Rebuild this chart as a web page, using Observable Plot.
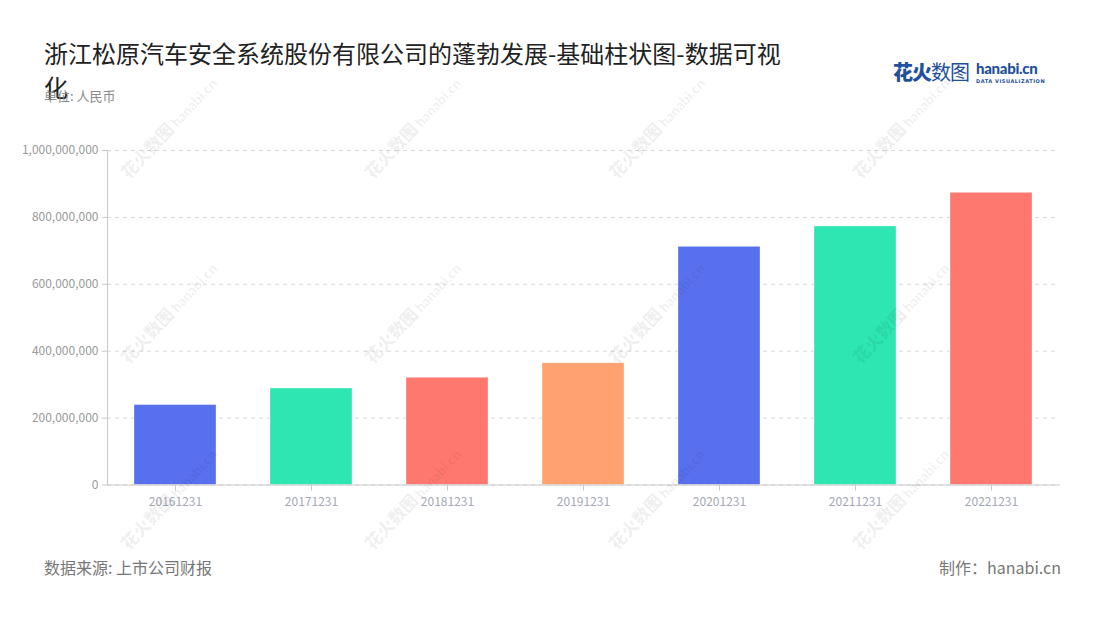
<!DOCTYPE html>
<html>
<head>
<meta charset="utf-8">
<script src="https://cdn.jsdelivr.net/npm/d3@7"></script>
<script src="https://cdn.jsdelivr.net/npm/@observablehq/plot@0.6"></script>
<style>
  html, body { margin: 0; padding: 0; background: #fff; }
  #page { position: relative; width: 1100px; height: 620px; overflow: hidden; font-family: "Noto Sans CJK SC", "Noto Sans", sans-serif; }
  #title { position: absolute; left: 44px; top: 36px; width: 745px; font-size: 24px; line-height: 34px; color: #222; }
  #unit { position: absolute; left: 44px; top: 86px; font-size: 13px; color: #8a8a8a; }
  #chart { position: absolute; left: 0; top: 130px; }
  #source { position: absolute; left: 44px; top: 555px; font-size: 16px; color: #777; }
  #maker { position: absolute; right: 39px; top: 555px; font-size: 16px; color: #777; }
  #logo { position: absolute; left: 893px; top: 57px; color: #22509c; white-space: nowrap; }
  #logo .cn1 { font-size: 20px; font-weight: 900; letter-spacing: -1px; }
  #logo .cn2 { font-size: 20px; font-weight: 400; letter-spacing: -1px; }
  #logo .en { position: absolute; left: 83px; top: 2px; font-family: "Lato", sans-serif; font-weight: 900; font-size: 15px; letter-spacing: -0.3px; }
  #logo .sub { position: absolute; left: 83px; top: 21px; font-family: "DejaVu Sans", sans-serif; font-size: 5px; letter-spacing: 0.55px; font-weight: bold; }
  .wm { position: absolute; transform: rotate(-47deg); transform-origin: left bottom; color: rgba(0,0,0,0.065); font-size: 17px; line-height: 20px; height: 20px; font-weight: 900; white-space: nowrap; pointer-events: none; }
  .wm .e { font-family: "Lato", sans-serif; font-size: 14px; margin-left: 3px; }
</style>
</head>
<body>
<div id="page">
  <div id="title"></div>
  <div id="unit"></div>
  <div id="logo"><span class="cn1">花火</span><span class="cn2">数图</span><span class="en">hanabi.cn</span><span class="sub">DATA VISUALIZATION</span></div>
  <div id="chart"></div>
  <div id="source"></div>
  <div id="maker"></div>
</div>
<script>
const titleText = "浙江松原汽车安全系统股份有限公司的蓬勃发展-基础柱状图-数据可视化";
const unitText = "单位: 人民币";
const sourceText = "数据来源: 上市公司财报";
const makerText = "制作：hanabi.cn";

const dates = ["20161231", "20171231", "20181231", "20191231", "20201231", "20211231", "20221231"];
const values = [239000000, 288500000, 320500000, 364000000, 712000000, 773000000, 873500000];
const yTicks = [0, 200000000, 400000000, 600000000, 800000000, 1000000000];
const palette = ["#5970ee", "#2ee6b1", "#ff7870", "#ffa26f", "#5970ee", "#2ee6b1", "#ff7870"];

document.getElementById("title").textContent = titleText;
document.getElementById("unit").textContent = unitText;
document.getElementById("source").textContent = sourceText;
document.getElementById("maker").textContent = makerText;

const data = dates.map((d, i) => ({date: d, value: values[i], color: palette[i]}));

const chart = Plot.plot({
  width: 1100,
  height: 390,
  marginTop: 20,
  marginBottom: 35.5,
  marginLeft: 107,
  marginRight: 41,
  style: {fontFamily: "'Noto Sans CJK SC', sans-serif", fontSize: "12px", background: "transparent"},
  x: {domain: dates, paddingInner: 0.4, paddingOuter: 0.2, label: null},
  y: {domain: [0, 1000000000], label: null},
  marks: [
    Plot.gridY(yTicks, {stroke: "#d9d9d9", strokeOpacity: 1, strokeDasharray: "4,4"}),
    Plot.barY(data, {x: "date", y: "value", fill: "color", stroke: "#ffffff", strokeOpacity: 0.35, strokeWidth: 1}),
    Plot.frame({anchor: "left", stroke: "#c8c8c8"}),
    Plot.frame({anchor: "bottom", stroke: "#c8c8c8"}),
    Plot.axisY(yTicks, {tickFormat: d3.format(","), tickSize: 5, tickPadding: 4, stroke: "#c8c8c8", fill: "#9a9a9a", label: null}),
    Plot.axisX({tickSize: 6, tickPadding: 6, stroke: "#c8c8c8", fill: "#a4a8b6", label: null})
  ]
});
document.getElementById("chart").appendChild(chart);

// faint watermarks
const page = document.getElementById("page");
const wmX = [131, 375, 619, 863];
const wmY = [182, 367, 553];
for (const x of wmX) for (const y of wmY) {
  const w = document.createElement("div");
  w.className = "wm";
  w.innerHTML = '花火数图<span class="e">hanabi.cn</span>';
  w.style.left = x + "px";
  w.style.top = (y - 20) + "px";
  page.appendChild(w);
}
</script>
</body>
</html>
